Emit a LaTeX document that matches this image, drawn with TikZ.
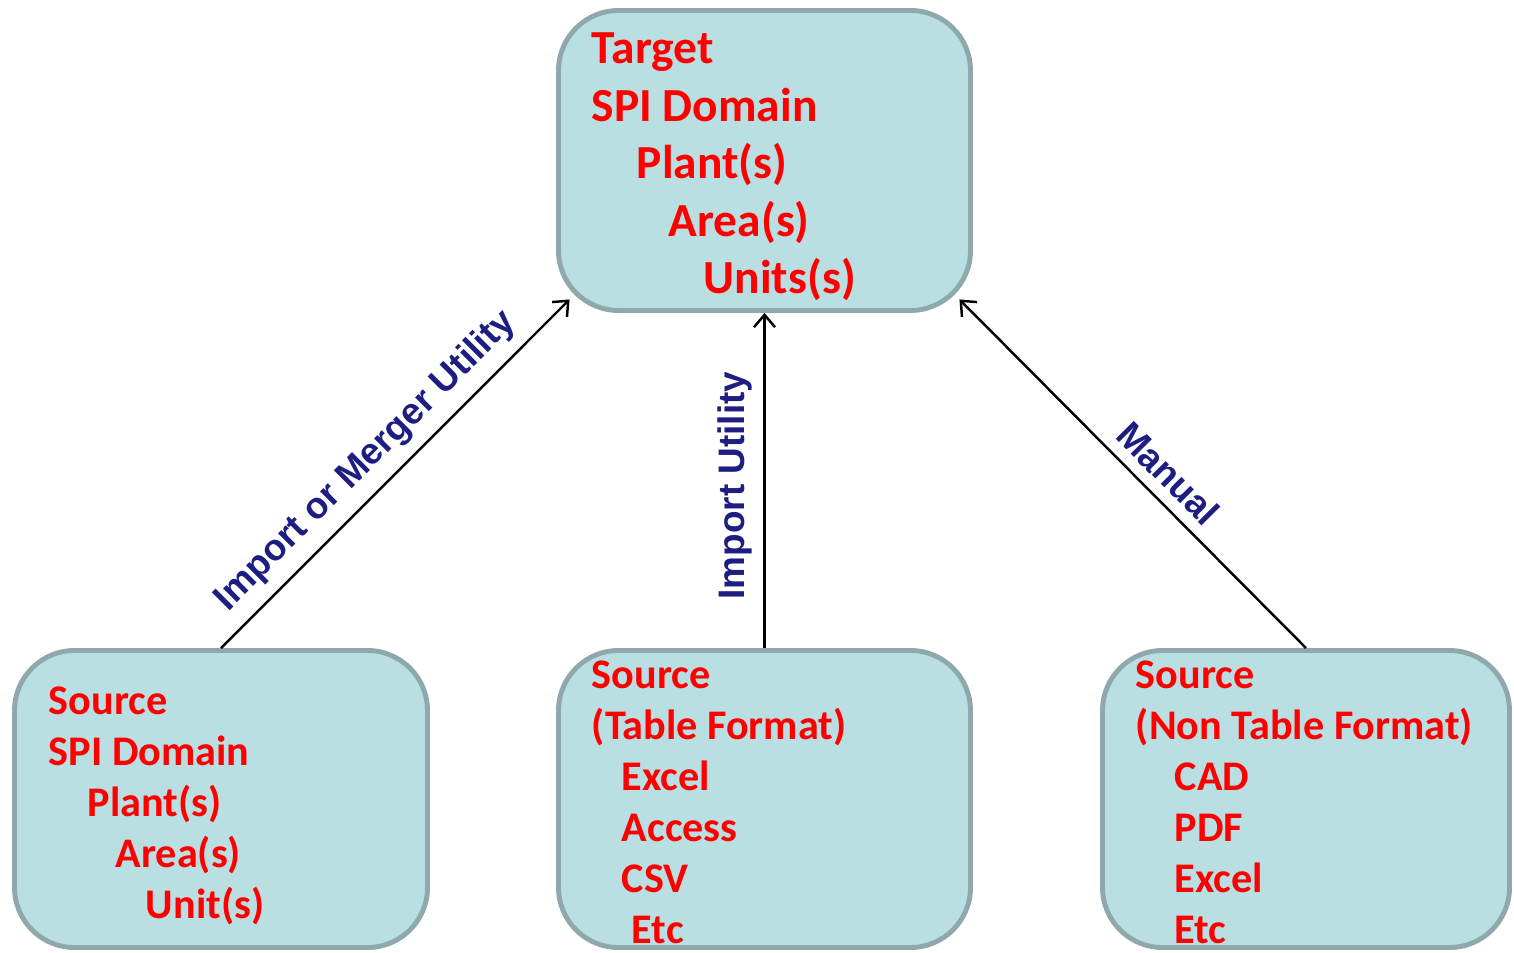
\documentclass[tikz,border=0pt]{standalone}
\usepackage{fontspec}
\setmainfont{Carlito}
\newfontfamily\labelfont{Liberation Sans}
\usetikzlibrary{arrows.meta, calc}
\definecolor{boxfill}{RGB}{185,223,227}
\definecolor{boxline}{RGB}{142,168,171}
\definecolor{labelblue}{RGB}{30,30,130}

\begin{document}
\begin{tikzpicture}[
  box/.style={draw=boxline, fill=boxfill, line width=2.8pt, rounded corners=1.2cm,
    minimum width=8.24cm, minimum height=5.94cm, inner sep=0pt},
  bigtext/.style={text=red, align=left, anchor=north west, inner sep=0pt,
    font=\fontsize{27}{32.7}\selectfont\bfseries},
  smalltext/.style={text=red, align=left, anchor=north west, inner sep=0pt,
    font=\fontsize{24}{29.1}\selectfont\bfseries},
  link/.style={line width=1.4pt, -{Straight Barb[length=7pt,width=12pt]}},
  linklabel/.style={sloped, above, inner sep=0.22cm, text=labelblue,
    font=\labelfont\fontsize{21}{24}\selectfont\bfseries}
]
\useasboundingbox (0,0) rectangle (30.28,19.04);
% Draw boxes
\node[box, minimum height=6cm] (target) at (15.29,15.83) {};
\node[box, minimum width=8.26cm] (srcdomain) at (4.42,3.06) {};
\node[box] (srctable) at (15.29,3.06) {};
\node[box, minimum width=8.14cm] (srcfile) at (26.12,3.06) {};
% Box texts
\node[bigtext] (targettext) at ($(target.north west)+(0.71,-0.49)$)
  {Target\\SPI Domain\\\hspace*{25.6pt}Plant(s)\\\hspace*{43.8pt}Area(s)\\\hspace*{63.7pt}Units(s)};
\node[smalltext] (domaintext) at ($(srcdomain.north west)+(0.73,-0.76)$)
  {Source\\SPI Domain\\\hspace*{22.2pt}Plant(s)\\\hspace*{38.1pt}Area(s)\\\hspace*{55.2pt}Unit(s)};
\node[smalltext] (tabletext) at ($(srctable.north west)+(0.71,-0.24)$)
  {Source\\(Table Format)\\\hspace*{17.1pt}Excel\\\hspace*{17.1pt}Access\\\hspace*{17.1pt}CSV\\\hspace*{22.8pt}Etc};
\node[smalltext] (filetext) at ($(srcfile.north west)+(0.71,-0.24)$)
  {Source\\(Non Table Format)\\\hspace*{22.2pt}CAD\\\hspace*{22.2pt}PDF\\\hspace*{22.2pt}Excel\\\hspace*{22.2pt}Etc};
% Arrow ends on the rounded corners
\coordinate (tsw) at ($(target.south west)+(0.27,0.27)$);
\coordinate (tse) at ($(target.south east)+(-0.27,0.27)$);
% Draw arrows
\draw[link] (srcdomain.north) -- (tsw) node[linklabel, pos=0.476] (lblmerge) {Import or Merger Utility};
\draw[link] (srctable.north) -- (target.south) node[linklabel, pos=0.485] (lblimport) {Import Utility};
\draw[link] (srcfile.north) -- (tse) node[linklabel, pos=0.45] (lblmanual) {Manual};
\end{tikzpicture}
\end{document}
